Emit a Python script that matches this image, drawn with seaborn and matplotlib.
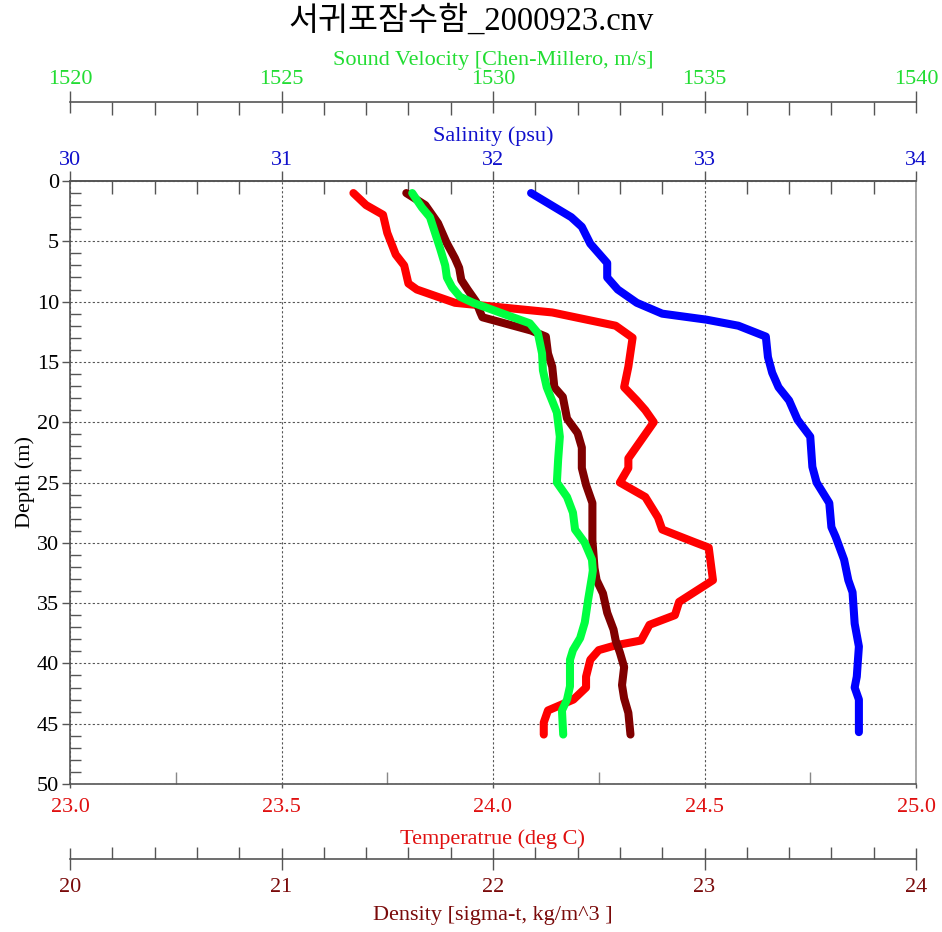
import matplotlib
matplotlib.use("Agg")
import matplotlib.pyplot as plt
from matplotlib.ticker import MultipleLocator, FixedLocator, FormatStrFormatter
import seaborn as sns

# CTD cast profiles (depth in m)
temp_depth = [1.0, 2.0, 2.8, 4.3, 6.1, 7.0, 8.5, 9.0, 10.1, 10.9, 12.0, 13.0, 15.4,
              17.1, 18.2, 19.0, 20.0, 21.5, 23.0, 23.8, 25.0, 26.2, 27.9, 28.9, 30.0,
              30.4, 33.1, 34.9, 36.0, 36.8, 38.1, 38.5, 38.9, 39.7, 41.1, 42.0, 43.0,
              43.9, 44.9, 45.9]
temperature = [23.67, 23.70, 23.74, 23.75, 23.77, 23.79, 23.80, 23.82, 23.91, 24.14, 24.29,
               24.33, 24.32, 24.31, 24.34, 24.36, 24.38, 24.35, 24.32, 24.32, 24.30, 24.36,
               24.39, 24.40, 24.48, 24.51, 24.52, 24.44, 24.43, 24.37, 24.35, 24.29, 24.25,
               24.23, 24.22, 24.22, 24.19, 24.13, 24.12, 24.12]

sal_depth = [1.0, 3.0, 3.8, 5.2, 6.8, 8.0, 9.0, 10.1, 11.0, 11.5, 12.0, 12.9, 14.6, 15.9,
             17.1, 18.2, 19.8, 21.2, 23.7, 25.0, 26.7, 28.7, 29.5, 31.4, 33.1, 34.1, 36.7,
             38.6, 41.1, 42.0, 43.0, 45.7]
salinity = [32.18, 32.37, 32.42, 32.46, 32.54, 32.54, 32.59, 32.68, 32.80, 33.01, 33.16,
            33.29, 33.30, 33.32, 33.35, 33.40, 33.44, 33.50, 33.51, 33.53, 33.59, 33.60,
            33.62, 33.66, 33.68, 33.70, 33.71, 33.73, 33.72, 33.71, 33.73, 33.73]

dens_depth = [1.0, 2.0, 3.5, 5.1, 6.4, 7.2, 8.2, 9.0, 10.0, 10.9, 11.3, 12.4, 12.9, 14.3,
              15.4, 17.1, 17.9, 19.7, 20.9, 22.1, 23.8, 25.2, 26.7, 28.1, 29.8, 32.1, 33.1,
              34.2, 35.8, 37.2, 38.1, 39.1, 40.3, 41.8, 42.9, 44.1, 45.9]
density = [21.59, 21.68, 21.74, 21.78, 21.82, 21.84, 21.85, 21.88, 21.92, 21.94, 21.95,
           22.18, 22.25, 22.26, 22.28, 22.29, 22.33, 22.35, 22.40, 22.42, 22.42, 22.44,
           22.47, 22.47, 22.47, 22.48, 22.49, 22.52, 22.54, 22.57, 22.58, 22.60, 22.62,
           22.61, 22.62, 22.64, 22.65]

sv_depth = [1.0, 2.2, 3.0, 4.3, 5.6, 7.0, 8.0, 8.8, 9.6, 10.1, 10.7, 11.3, 11.8, 12.6,
            14.3, 15.7, 17.1, 19.2, 21.2, 23.1, 25.0, 26.2, 27.5, 28.9, 30.0, 31.4, 32.3,
            32.8, 34.7, 36.6, 37.9, 38.9, 39.7, 41.9, 43.0, 43.9, 45.9]
sound_velocity = [1528.09, 1528.32, 1528.51, 1528.63, 1528.75, 1528.87, 1528.91, 1529.03,
                  1529.22, 1529.53, 1530.00, 1530.47, 1530.87, 1531.06, 1531.16, 1531.18,
                  1531.27, 1531.51, 1531.58, 1531.54, 1531.51, 1531.75, 1531.89, 1531.94,
                  1532.17, 1532.34, 1532.36, 1532.34, 1532.25, 1532.17, 1532.06, 1531.89,
                  1531.82, 1531.82, 1531.75, 1531.63, 1531.66]

title = "서귀포잠수함_2000923.cnv"

sns.set_style("ticks")
plt.rcParams['font.family'] = ['Liberation Serif', 'Noto Sans CJK KR']
plt.rcParams['font.size'] = 16

RED, RED_TXT = '#FF0000', '#E01010'
BLUE, BLUE_TXT = '#0000FF', '#1010CC'
DRED, DRED_TXT = '#800000', '#7A0A0A'
GREEN, GREEN_TXT = '#00FF40', '#22DD33'
AXC = '#555555'
LW = 5.8

W, H = 942, 932
L, R, T, B = 70, 916, 181, 784
fig = plt.figure(figsize=(W / 100, H / 100), dpi=100)
ax = fig.add_axes([L / W, 1 - B / H, (R - L) / W, (B - T) / H])
ax_sal = ax.twiny()
ax_den = ax.twiny()
ax_sv = ax.twiny()

line_kw = dict(sort=False, estimator=None, linewidth=LW,
               solid_capstyle='round', solid_joinstyle='round')
sns.lineplot(x=temperature, y=temp_depth, ax=ax, color=RED, **line_kw)
sns.lineplot(x=salinity, y=sal_depth, ax=ax_sal, color=BLUE, **line_kw)
sns.lineplot(x=density, y=dens_depth, ax=ax_den, color=DRED, **line_kw)
sns.lineplot(x=sound_velocity, y=sv_depth, ax=ax_sv, color=GREEN, **line_kw)

# host axes: temperature (bottom) and depth
ax.set_xlim(23, 25)
ax.set_ylim(50, 0)
ax.xaxis.set_major_locator(MultipleLocator(0.5))
ax.xaxis.set_minor_locator(FixedLocator([23.25, 23.75, 24.25, 24.75]))
ax.xaxis.set_major_formatter(FormatStrFormatter('%.1f'))
ax.yaxis.set_major_locator(MultipleLocator(5))
ax.yaxis.set_minor_locator(MultipleLocator(1))
ax.tick_params(axis='x', which='major', direction='out', length=3, width=1,
               color=AXC, labelcolor=RED_TXT, pad=7, top=False, labelsize=16)
ax.tick_params(axis='x', which='minor', direction='in', length=9, width=1,
               color='#888888', top=False)
ax.tick_params(axis='y', which='major', direction='out', length=6, width=1,
               color=AXC, labelcolor='black', pad=2, right=False, labelsize=16)
ax.tick_params(axis='y', which='minor', direction='in', length=8, width=1,
               color=AXC, right=False)
ax.grid(which='major', color='#555555', linestyle=(0, (2, 2)), linewidth=0.8)
ax.set_xlabel('Temperatrue (deg C)', color=RED_TXT, fontsize=16, labelpad=9)
ax.set_ylabel('Depth (m)', color='black', fontsize=16, labelpad=1)
for s in ['left', 'bottom', 'top']:
    ax.spines[s].set_color(AXC)
    ax.spines[s].set_linewidth(1.2)
ax.spines['right'].set_color('#999999')
ax.spines['right'].set_linewidth(1.2)

# salinity (top)
ax_sal.set_xlim(30, 34)
ax_sal.xaxis.set_major_locator(MultipleLocator(1))
ax_sal.xaxis.set_minor_locator(MultipleLocator(0.2))
ax_sal.tick_params(axis='x', which='major', direction='out', length=7, width=1,
                   color=AXC, labelcolor=BLUE_TXT, pad=1, labelsize=16)
ax_sal.tick_params(axis='x', which='minor', direction='in', length=9.5, width=1,
                   color=AXC)
ax_sal.set_xlabel('Salinity (psu)', color=BLUE_TXT, fontsize=16, labelpad=7)
for s in ['left', 'right', 'bottom']:
    ax_sal.spines[s].set_visible(False)
ax_sal.spines['top'].set_color(AXC)
ax_sal.spines['top'].set_linewidth(1.2)

# density (detached bottom scale)
ax_den.set_xlim(20, 24)
ax_den.xaxis.set_ticks_position('bottom')
ax_den.xaxis.set_label_position('bottom')
ax_den.spines['bottom'].set_position(('outward', 54))
for s in ['left', 'right', 'top']:
    ax_den.spines[s].set_visible(False)
ax_den.spines['bottom'].set_color(AXC)
ax_den.spines['bottom'].set_linewidth(1.2)
ax_den.xaxis.set_major_locator(MultipleLocator(1))
ax_den.xaxis.set_minor_locator(MultipleLocator(0.2))
ax_den.tick_params(axis='x', which='major', direction='inout', length=16, width=1,
                   color=AXC, labelcolor=DRED_TXT, pad=6, labelsize=16)
ax_den.tick_params(axis='x', which='minor', direction='in', length=9, width=1,
                   color=AXC)
ax_den.set_xlabel('Density [sigma-t, kg/m^3 ]', color=DRED_TXT, fontsize=16, labelpad=6)

# sound velocity (detached top scale)
ax_sv.set_xlim(1520, 1540)
ax_sv.spines['top'].set_position(('outward', 57))
for s in ['left', 'right', 'bottom']:
    ax_sv.spines[s].set_visible(False)
ax_sv.spines['top'].set_color(AXC)
ax_sv.spines['top'].set_linewidth(1.2)
ax_sv.xaxis.set_major_locator(MultipleLocator(5))
ax_sv.xaxis.set_minor_locator(MultipleLocator(1))
ax_sv.tick_params(axis='x', which='major', direction='inout', length=16, width=1,
                  color=AXC, labelcolor=GREEN_TXT, pad=1, labelsize=16)
ax_sv.tick_params(axis='x', which='minor', direction='in', length=9, width=1,
                  color=AXC)
ax_sv.set_xlabel('Sound Velocity [Chen-Millero, m/s]', color=GREEN_TXT, fontsize=16,
                 labelpad=4)

ax.set_ylim(50, 0)

fig.text(0.5, 1 - 21 / H, title, ha='center', va='center', fontsize=23.5, color='black')

fig.savefig('out.png', dpi=100)
